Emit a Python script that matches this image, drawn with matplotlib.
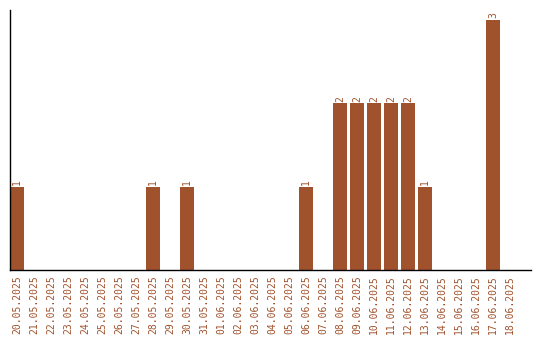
import matplotlib.pyplot as plt
import numpy as np

# Daten
dates = ['20.05.2025', '21.05.2025', '22.05.2025', '23.05.2025', '24.05.2025',
         '25.05.2025', '26.05.2025', '27.05.2025', '28.05.2025', '29.05.2025',
         '30.05.2025', '31.05.2025', '01.06.2025', '02.06.2025', '03.06.2025',
         '04.06.2025', '05.06.2025', '06.06.2025', '07.06.2025', '08.06.2025',
         '09.06.2025', '10.06.2025', '11.06.2025', '12.06.2025', '13.06.2025',
         '14.06.2025', '15.06.2025', '16.06.2025', '17.06.2025', '18.06.2025']
counts = [1, 0, 0, 0, 0, 0, 0, 0, 1, 0,
          1, 0, 0, 0, 0, 0, 0, 1, 0, 2,
          2, 2, 2, 2, 1, 0, 0, 0, 3, 0]

color = '#a0522d'
mono = 'DejaVu Sans Mono'

fig = plt.figure(figsize=(5.4, 3.4), dpi=100)
ax = fig.add_axes([10 / 540, 70 / 340, 521 / 540, 260 / 340])

x = np.arange(len(dates))
bars = ax.bar(x, counts, width=14 / 17, color=color)

# Werte über den Balken
for xi, c in zip(x, counts):
    if c > 0:
        ax.text(xi, c + 0.02, str(c), rotation=90, ha='center', va='bottom',
                fontsize=7, color=color, family=mono)

ax.set_xlim(-0.41, 30.24)
ax.set_ylim(0, 3.12)
ax.set_xticks(x)
ax.set_xticklabels(dates, rotation=90, fontsize=7, color=color, family=mono)
ax.tick_params(axis='x', length=0, pad=4)
ax.set_yticks([])

for s in ['top', 'right']:
    ax.spines[s].set_visible(False)
ax.spines['left'].set_linewidth(1)
ax.spines['bottom'].set_linewidth(1)

fig.savefig('out.png', dpi=100)
